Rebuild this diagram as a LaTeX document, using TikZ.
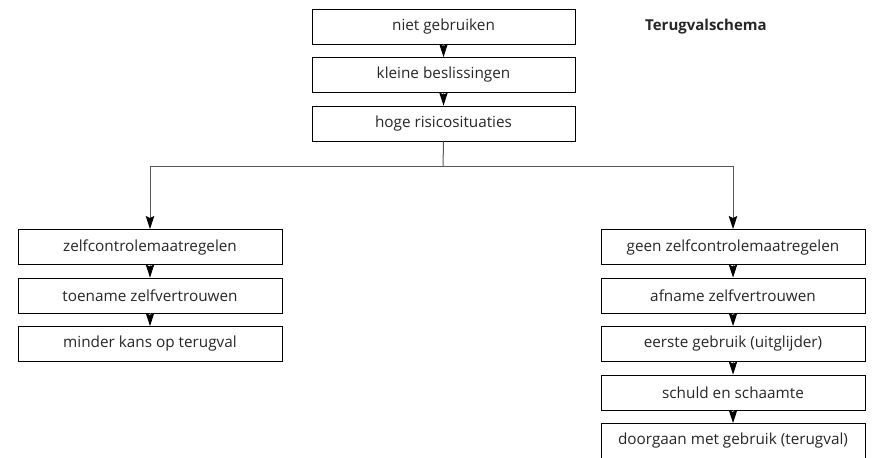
\documentclass[tikz,border=0pt]{standalone}
\usepackage{fontspec}
\setmainfont{Open Sans}
\usetikzlibrary{arrows.meta}
\begin{document}
\begin{tikzpicture}[x=1bp,y=-1bp,
  box/.style={draw=black,line width=0.9bp,minimum height=35bp,inner sep=0pt,font=\fontsize{15.3bp}{17bp}\selectfont,text=black!85},
  topbox/.style={box,minimum width=263bp},
  sidebox/.style={box,minimum width=264bp},
  link/.style={draw=black!65,line width=1bp,-{Stealth[length=13bp,width=8.5bp,inset=2bp,black]}}
]
\useasboundingbox (0,0) rectangle (874,458);
\node[topbox] (t1) at (443.5,26.5) {niet gebruiken};
\node[topbox] (t2) at (443.5,75) {kleine beslissingen};
\node[topbox] (t3) at (443.5,123.5) {hoge risicosituaties};
\node[anchor=base west,font=\bfseries\fontsize{15bp}{17bp}\selectfont,text=black!85,inner sep=0pt] (title) at (645,31) {Terugvalschema};

\node[sidebox] (l1) at (150,247) {zelfcontrolemaatregelen};
\node[sidebox] (l2) at (150,295.5) {toename zelfvertrouwen};
\node[sidebox] (l3) at (150,344) {minder kans op terugval};

\node[sidebox] (r1) at (733,247) {geen zelfcontrolemaatregelen};
\node[sidebox] (r2) at (733,295.5) {afname zelfvertrouwen};
\node[sidebox] (r3) at (733,344) {eerste gebruik (uitglijder)};
\node[sidebox] (r4) at (733,392.5) {schuld en schaamte};
\node[sidebox] (r5) at (733,441) {doorgaan met gebruik (terugval)};

\coordinate (split) at (443,166.5);
\draw[link] (t1) -- (t2);
\draw[link] (t2) -- (t3);
\draw[draw=black!65,line width=1bp] (t3.south) -- (split);
\draw[link] (split) -| (l1.north);
\draw[link] (split) -| (r1.north);
\draw[link] (l1) -- (l2);
\draw[link] (l2) -- (l3);
\draw[link] (r1) -- (r2);
\draw[link] (r2) -- (r3);
\draw[link] (r3) -- (r4);
\draw[link] (r4) -- (r5);
\end{tikzpicture}
\end{document}
